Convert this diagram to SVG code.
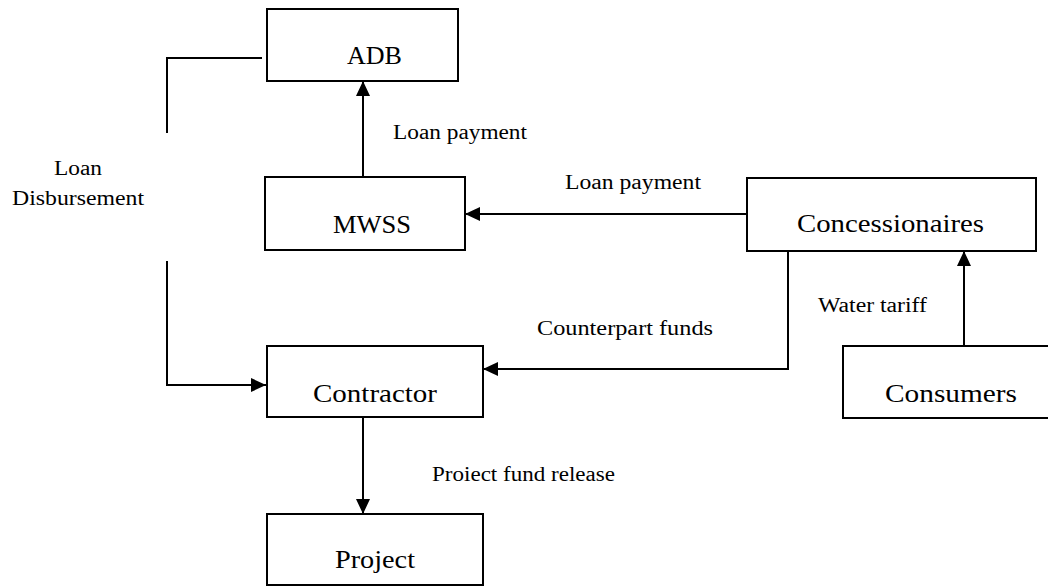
<svg xmlns="http://www.w3.org/2000/svg" width="1048" height="588" viewBox="0 0 1048 588">
<defs>
<marker id="ah" viewBox="0 0 15 14" refX="15" refY="7" markerWidth="15" markerHeight="14" markerUnits="userSpaceOnUse" orient="auto">
<path d="M0,0 L15,7 L0,14 Z" fill="#000"/>
</marker>
<style>
.box{fill:#fff;stroke:#000;stroke-width:2}
.nt{font-family:"Liberation Serif","Times New Roman",serif;font-size:25px;fill:#000}
.lt{font-family:"Liberation Serif","Times New Roman",serif;font-size:20px;fill:#000}
.ln{fill:none;stroke:#000;stroke-width:2}
.ar{fill:none;stroke:#000;stroke-width:2;marker-end:url(#ah)}
</style>
</defs>
<rect width="1048" height="588" fill="#fff"/>
<g id="connectors">
<polyline class="ln" points="262,58 167,58 167,133"/>
<polyline class="ar" points="167,261 167,385 266,385"/>
<line class="ar" x1="363" y1="177" x2="363" y2="81"/>
<line class="ar" x1="747" y1="214" x2="465" y2="214"/>
<polyline class="ar" points="788,251 788,369 483,369"/>
<line class="ar" x1="964" y1="346" x2="964" y2="251"/>
<line class="ar" x1="363" y1="417" x2="363" y2="514"/>
<text class="lt" x="393" y="139" textLength="134" lengthAdjust="spacingAndGlyphs">Loan payment</text>
<text class="lt" x="565" y="189" textLength="136" lengthAdjust="spacingAndGlyphs">Loan payment</text>
<text class="lt" x="54" y="175" textLength="48" lengthAdjust="spacingAndGlyphs">Loan</text>
<text class="lt" x="12" y="205" textLength="132" lengthAdjust="spacingAndGlyphs">Disbursement</text>
<text class="lt" x="537" y="335" textLength="176" lengthAdjust="spacingAndGlyphs">Counterpart funds</text>
<text class="lt" x="818" y="312" textLength="109" lengthAdjust="spacingAndGlyphs">Water tariff</text>
<text class="lt" x="432" y="481" textLength="183" lengthAdjust="spacingAndGlyphs">Proiect fund release</text>
</g>
<g id="adb">
<rect class="box" x="267" y="9" width="191" height="72"/>
<text class="nt" x="347" y="64" textLength="55" lengthAdjust="spacingAndGlyphs">ADB</text>
</g>
<g id="mwss">
<rect class="box" x="265" y="177" width="200" height="73"/>
<text class="nt" x="333" y="233" textLength="78" lengthAdjust="spacingAndGlyphs">MWSS</text>
</g>
<g id="concessionaires">
<rect class="box" x="747" y="178" width="289" height="73"/>
<text class="nt" x="797" y="232" textLength="187" lengthAdjust="spacingAndGlyphs">Concessionaires</text>
</g>
<g id="contractor">
<rect class="box" x="267" y="346" width="216" height="71"/>
<text class="nt" x="313" y="402" textLength="124" lengthAdjust="spacingAndGlyphs">Contractor</text>
</g>
<g id="consumers">
<rect class="box" x="843" y="346" width="215" height="72"/>
<text class="nt" x="885" y="402" textLength="132" lengthAdjust="spacingAndGlyphs">Consumers</text>
</g>
<g id="project">
<rect class="box" x="267" y="514" width="216" height="71"/>
<text class="nt" x="335" y="568" textLength="80" lengthAdjust="spacingAndGlyphs">Project</text>
</g>
</svg>
